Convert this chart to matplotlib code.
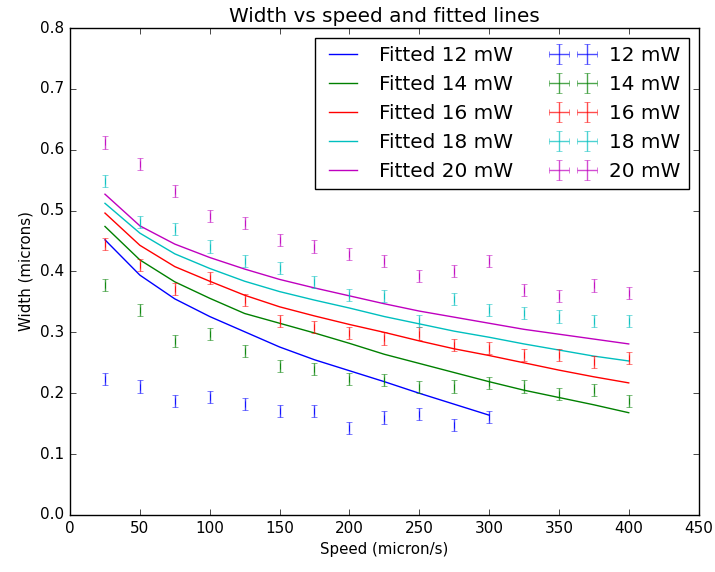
import matplotlib
matplotlib.use('Agg')
import matplotlib.pyplot as plt
import numpy as np

plt.style.use('classic')

# speeds (micron/s)
speed = np.array([25, 50, 75, 100, 125, 150, 175, 200, 225, 250, 275, 300, 325, 350, 375, 400])

# measured widths (microns)
w12 = [0.223, 0.211, 0.187, 0.194, 0.182, 0.171, 0.171, 0.143, 0.160, 0.166, 0.148, 0.161]
w14 = [0.378, 0.337, 0.286, 0.297, 0.269, 0.245, 0.240, 0.223, 0.222, 0.210, 0.211, 0.217,
       0.211, 0.199, 0.205, 0.187]
w16 = [0.445, 0.411, 0.371, 0.389, 0.353, 0.319, 0.309, 0.299, 0.290, 0.298, 0.279, 0.274,
       0.263, 0.263, 0.251, 0.258]
w18 = [0.549, 0.482, 0.470, 0.441, 0.417, 0.406, 0.383, 0.361, 0.360, 0.319, 0.355, 0.337,
       0.332, 0.326, 0.319, 0.319]
w20 = [0.612, 0.577, 0.532, 0.491, 0.480, 0.452, 0.441, 0.429, 0.417, 0.393, 0.401, 0.417,
       0.370, 0.360, 0.377, 0.365]

# fitted curves
f12 = [0.452, 0.394, 0.355, 0.326, 0.301, 0.276, 0.255, 0.237, 0.219, 0.200, 0.182, 0.164]
f14 = [0.474, 0.419, 0.383, 0.356, 0.331, 0.315, 0.299, 0.282, 0.264, 0.249, 0.234, 0.219,
       0.205, 0.193, 0.181, 0.168]
f16 = [0.496, 0.443, 0.408, 0.384, 0.361, 0.342, 0.327, 0.313, 0.300, 0.286, 0.273, 0.262,
       0.250, 0.238, 0.227, 0.217]
f18 = [0.512, 0.463, 0.429, 0.405, 0.384, 0.367, 0.353, 0.340, 0.326, 0.314, 0.302, 0.292,
       0.281, 0.271, 0.261, 0.253]
f20 = [0.527, 0.475, 0.445, 0.423, 0.404, 0.387, 0.373, 0.360, 0.347, 0.335, 0.325, 0.315,
       0.305, 0.297, 0.289, 0.281]

yerr = 0.01
powers = ['12', '14', '16', '18', '20']
colors = ['b', 'g', 'r', 'c', 'm']
measured = [w12, w14, w16, w18, w20]
fitted = [f12, f14, f16, f18, f20]

fig = plt.figure(figsize=(7.15, 5.72), dpi=100, facecolor='white')
ax = fig.add_axes([0.098, 0.0997, 0.879, 0.8513])

for p, c, f in zip(powers, colors, fitted):
    ax.plot(speed[:len(f)], f, color=c, lw=1.0, label='Fitted %s mW' % p)

for p, c, w in zip(powers, colors, measured):
    ax.errorbar(speed[:len(w)], w, yerr=yerr, xerr=0, fmt='none', ecolor=c,
                alpha=0.7, capsize=2.5, elinewidth=1.0, label='%s mW' % p)

ax.set_xlim(0, 450)
ax.set_ylim(0, 0.8)
ax.set_title('Width vs speed and fitted lines', fontsize=14.4, pad=4)
ax.set_xlabel('Speed (micron/s)', fontsize=10.8)
ax.set_ylabel('Width (microns)', fontsize=10.8)
ax.tick_params(labelsize=11)
ax.legend(loc='upper right', ncol=2, fontsize=14.4, numpoints=2)

fig.savefig('out.png', dpi=100, facecolor='white')
